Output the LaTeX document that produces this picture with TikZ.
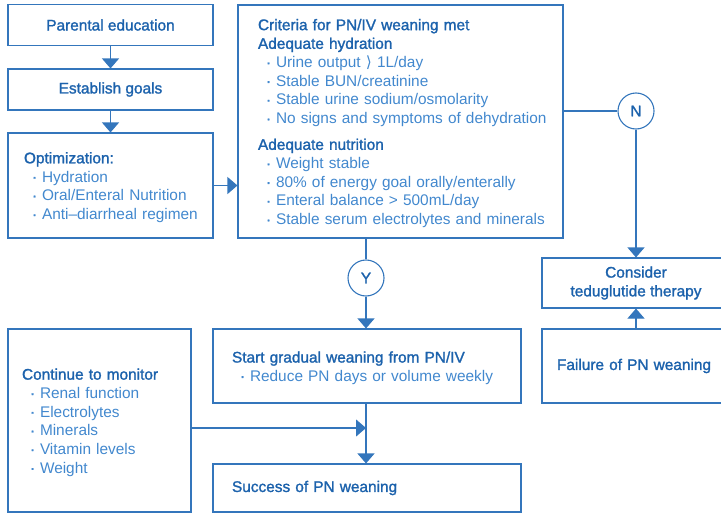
\documentclass[tikz,border=0pt]{standalone}
\usepackage{fontspec}
\setmainfont{Liberation Sans}
\newfontfamily\medfont[FakeBold=1.5]{Liberation Sans}
\newfontfamily\symfont{DejaVu Sans}
\usetikzlibrary{arrows.meta}

\definecolor{headblue}{RGB}{28,98,172}
\definecolor{itemblue}{RGB}{66,136,206}
\definecolor{lineblue}{RGB}{52,118,188}

% heading line and bullet line inside a box
\newcommand{\hd}[1]{\mbox{\medfont\color{headblue}#1}}
\newcommand{\itm}[1]{\mbox{\color{itemblue}\hspace*{8pt}\makebox[10pt][l]{\medfont·}#1}}
% taller first line, so a block of lines sits a little lower in its box
\newcommand{\tallrow}{\rule{0pt}{15pt}}

\tikzset{
  box/.style={draw=lineblue, line width=1.1pt, inner ysep=0pt,
    font=\fontsize{15.4}{18.7}\selectfont, text=headblue},
  lbox/.style={box, align=left},
  cbox/.style={box, align=center, inner xsep=0pt},
  yn/.style={circle, draw=lineblue, line width=1.1pt, minimum size=36pt,
    inner sep=0pt, font=\medfont\fontsize{15.4}{18}\selectfont, text=headblue},
  conn/.style={draw=lineblue, line width=1.1pt},
  arr/.style={conn, -{Triangle[width=17pt,length=10pt]}},
}

\begin{document}
\begin{tikzpicture}[x=1pt, y=-1pt]
\useasboundingbox (0,0) rectangle (721,514);

% left column
\node[cbox, minimum width=205, minimum height=41] (pe) at (110.5,25)
  {\hd{Parental education}};
\node[cbox, minimum width=205, minimum height=41] (eg) at (110.5,89.5)
  {\hd{Establish goals}};
\node[lbox, minimum width=205, minimum height=105, inner xsep=16pt,
  text width=173pt] (opt) at (110.5,185.5)
  {\tallrow\hd{Optimization:}\\
   \itm{Hydration}\\
   \itm{Oral/Enteral Nutrition}\\
   \itm{Anti–diarrheal regimen}};

% criteria box
\node[lbox, minimum width=325, minimum height=233, inner xsep=20pt,
  text width=285pt] (crit) at (400.5,121.5)
  {\tallrow\hd{Criteria for PN/IV weaning met}\\
   \hd{Adequate hydration}\\
   \itm{Urine output {\symfont ⟩} 1L/day}\\
   \itm{Stable BUN/creatinine}\\
   \itm{Stable urine sodium/osmolarity}\\
   \itm{No signs and symptoms of dehydration}\\[7.5pt]
   \hd{Adequate nutrition}\\
   \itm{Weight stable}\\
   \itm{80\% of energy goal orally/enterally}\\
   \itm{Enteral balance > 500mL/day}\\
   \itm{Stable serum electrolytes and minerals}};

% decision circles
\node[yn] (N) at (636,111) {N};
\node[yn] (Y) at (366,278) {Y};

% right column
\node[cbox, minimum width=188, minimum height=50] (cons) at (636,283)
  {\hd{Consider}\\\hd{teduglutide therapy}};
\node[lbox, minimum width=188, minimum height=74, inner xsep=15pt,
  text width=158pt] (fail) at (636,366)
  {\hd{Failure of PN weaning}};

% weaning boxes
\node[lbox, minimum width=308, minimum height=74, inner xsep=19pt,
  text width=270pt] (start) at (367,366)
  {\tallrow\hd{Start gradual weaning from PN/IV}\\
   \itm{Reduce PN days or volume weekly}};
\node[lbox, minimum width=308, minimum height=48, inner xsep=19pt,
  text width=270pt] (succ) at (367,488)
  {\hd{Success of PN weaning}};
\node[lbox, minimum width=183, minimum height=183, inner xsep=14pt,
  text width=155pt] (cont) at (99.5,420.5)
  {\tallrow\hd{Continue to monitor}\\
   \itm{Renal function}\\
   \itm{Electrolytes}\\
   \itm{Minerals}\\
   \itm{Vitamin levels}\\
   \itm{Weight}};

\coordinate (join) at (366,428);

% connectors
\draw[arr] (pe) -- (eg);
\draw[arr] (eg) -- (opt);
\draw[arr] (opt.east) -- (opt.east -| crit.west);
\draw[conn] (crit.east |- N.west) -- (N.west);
\draw[arr] (N) -- (cons.north -| N);
\draw[arr] (fail.north -| N) -- (cons.south -| N);
\draw[conn] (crit.south -| Y) -- (Y);
\draw[arr] (Y) -- (start.north -| Y);
\draw[arr] (start.south -| join) -- (succ.north -| join);
\draw[arr] (cont.east |- join) -- (join);
\end{tikzpicture}
\end{document}
